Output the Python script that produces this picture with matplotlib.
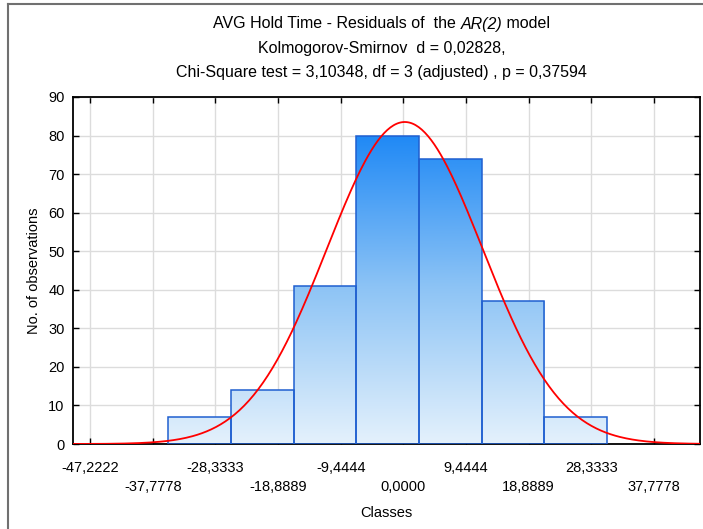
import numpy as np
import matplotlib
matplotlib.use("Agg")
from matplotlib import pyplot as plt
from matplotlib.colors import LinearSegmentedColormap

plt.rcParams['font.family'] = ['Liberation Sans', 'DejaVu Sans']

# class boundaries and counts
bin_width = 9.4444
bin_edges = [-35.42 + i * bin_width for i in range(8)]
counts = [7, 14, 41, 80, 74, 37, 7]

# fitted normal (estimated from the red curve)
fit_mean = 0.2
fit_sd = 11.73

tick_vals = [-47.2222, -37.7778, -28.3333, -18.8889, -9.4444, 0.0,
             9.4444, 18.8889, 28.3333, 37.7778]
tick_text = ['-47,2222', '-37,7778', '-28,3333', '-18,8889', '-9,4444',
             '0,0000', '9,4444', '18,8889', '28,3333', '37,7778']

fig = plt.figure(figsize=(7.03, 5.29), dpi=100)
ax = fig.add_axes([73 / 703, 1 - 444 / 529, 627 / 703, 347 / 529])

xmin, xmax = -49.8, 44.7

ax.set_axisbelow(True)
ax.grid(True, color='#dcdcdc', lw=1)

# gradient used to fill the bars: dark blue at the top, pale at the bottom
cmap = LinearSegmentedColormap.from_list('bars', ['#e4f1fc', '#8cc3f5', '#1a86f5'])
grad = np.linspace(0, 1, 256).reshape(-1, 1)

for i, c in enumerate(counts):
    left = bin_edges[i]
    right = bin_edges[i + 1]
    rect = plt.Rectangle((left, 0), right - left, c, facecolor='none',
                         edgecolor='#1f5fd0', lw=1.1, zorder=3)
    ax.add_patch(rect)
    im = ax.imshow(grad, cmap=cmap, origin='lower', aspect='auto',
                   extent=(xmin, xmax, 0, 82), zorder=2)
    im.set_clip_path(rect)

ax.set_xlim(xmin, xmax)
ax.set_ylim(0, 90)

xs = np.linspace(xmin, xmax, 400)
n_total = sum(counts)
curve = n_total * bin_width / (fit_sd * np.sqrt(2 * np.pi)) * np.exp(-0.5 * ((xs - fit_mean) / fit_sd) ** 2)
ax.plot(xs, curve, color='red', lw=1.3, zorder=4)

ax.set_xticks(tick_vals)
ax.set_xticklabels([t if k % 2 == 0 else '\n' + t for k, t in enumerate(tick_text)],
                   linespacing=1.45)
ax.set_yticks(range(0, 91, 10))
ax.tick_params(direction='in', length=4, top=True, right=True, labelsize=10.5,
               width=1)
ax.tick_params(axis='x', pad=12)
ax.tick_params(axis='y', pad=6)
for s in ax.spines.values():
    s.set_linewidth(1.3)

ax.set_xlabel('Classes', fontsize=10.5, labelpad=9)
ax.set_ylabel('No. of observations', fontsize=10.5, labelpad=5)

# title, line 1 has an italic piece in the middle
fs = 11.5
cx = 0.543
parts = [('AVG Hold Time - Residuals of  the ', 'normal'), ('AR(2)', 'italic'), (' model', 'normal')]
fig.canvas.draw()
r = fig.canvas.get_renderer()
tmp = [fig.text(0, 0, p, fontsize=fs, style=st) for p, st in parts]
widths = [t.get_window_extent(r).width for t in tmp]
for t in tmp:
    t.remove()
x0 = cx * 703 - sum(widths) / 2
for (p, st), w in zip(parts, widths):
    fig.text(x0 / 703, 1 - 24 / 529, p, fontsize=fs, style=st, ha='left', va='center')
    x0 += w
fig.text(cx, 1 - 49 / 529, 'Kolmogorov-Smirnov  d = 0,02828,',
         ha='center', va='center', fontsize=fs)
fig.text(cx, 1 - 73 / 529, 'Chi-Square test = 3,10348, df = 3 (adjusted) , p = 0,37594',
         ha='center', va='center', fontsize=fs)

# outer frame lines (left and top)
fig.add_artist(plt.Line2D([8 / 703, 8 / 703], [0, 1 - 4 / 529], transform=fig.transFigure,
                          color='#707070', lw=1.5))
fig.add_artist(plt.Line2D([8 / 703, 1], [1 - 4 / 529, 1 - 4 / 529], transform=fig.transFigure,
                          color='#707070', lw=1.5))

fig.savefig('out.png', dpi=100)
